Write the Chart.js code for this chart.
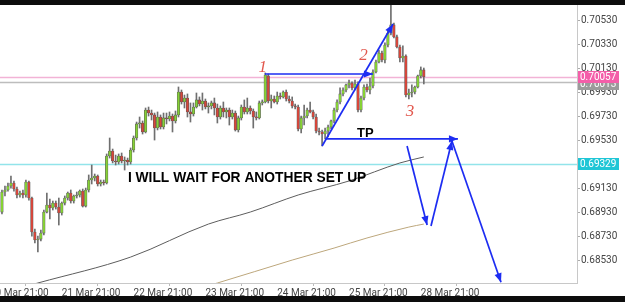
<!DOCTYPE html>
<html><head><meta charset="utf-8">
<script src="https://cdn.jsdelivr.net/npm/chart.js@4.4.1/dist/chart.umd.min.js"></script>
<style>
html,body{margin:0;padding:0;background:#0d0d0d;width:625px;height:302px;overflow:hidden}
#wrap{position:absolute;left:0;top:5px;width:625px;height:291px;background:#fff}
canvas{display:block}
</style></head><body>
<div id="wrap"><canvas id="c" width="625" height="291"></canvas></div>
<script>
// ---- data (H1 bars, x = hours since 20 Mar 21:00) ----
const barHours = [4,5,6,7,8,9,10,11,12,13,14,15,16,17,18,19,20,21,22,23,24,25,26,27,28,29,30,31,32,33,34,35,36,37,38,39,40,41,42,43,44,45,46,47,48,49,50,51,52,53,54,55,56,57,58,59,60,61,62,63,64,65,66,67,68,69,70,71,72,73,74,75,76,77,78,79,80,81,82,83,84,85,86,87,88,89,90,91,92,93,94,95,96,97,98,99,100,101,102,103,104,105,106,107,108,109,110,111,112,113,114,115,116,117,118,119,120,121,122,123,124,125,126,127,128,129,130,131,132,133,134,135,136,137,138,139,140,141,142,143,144,145];
const openP = [0.68930,0.69097,0.69114,0.69147,0.69172,0.69122,0.69072,0.69089,0.69072,0.69180,
0.69047,0.68764,0.68697,0.68705,0.68755,0.68930,0.68989,0.68964,0.69005,0.68972,
0.68922,0.69005,0.69047,0.69089,0.69022,0.69064,0.69072,0.69105,0.68980,0.69114,
0.69197,0.69214,0.69230,0.69164,0.69180,0.69172,0.69397,0.69439,0.69355,0.69347,
0.69397,0.69355,0.69364,0.69347,0.69447,0.69547,0.69664,0.69672,0.69597,0.69780,
0.69755,0.69739,0.69630,0.69722,0.69639,0.69714,0.69705,0.69730,0.69689,0.69739,
0.69930,0.69847,0.69880,0.69764,0.69747,0.69805,0.69864,0.69830,0.69855,0.69805,
0.69814,0.69839,0.69797,0.69722,0.69797,0.69764,0.69780,0.69722,0.69755,0.69614,
0.69714,0.69805,0.69764,0.69797,0.69772,0.69722,0.69714,0.69839,0.69847,0.70064,
0.69855,0.69872,0.69847,0.69897,0.69889,0.69930,0.69872,0.69855,0.69814,0.69805,
0.69622,0.69714,0.69730,0.69780,0.69764,0.69722,0.69605,0.69597,0.69580,0.69605,
0.69639,0.69689,0.69780,0.69847,0.69914,0.69947,0.69989,0.70005,0.69964,0.69997,
0.69780,0.69880,0.69972,0.69947,0.69980,0.70097,0.70180,0.70255,0.70197,0.70322,
0.70422,0.70489,0.70389,0.70305,0.70214,0.70230,0.69905,0.69922,0.69930,0.69972,
0.70064,0.70114];
const highP = [0.69114,0.69147,0.69172,0.69230,0.69189,0.69139,0.69105,0.69114,0.69197,0.69189,
0.69055,0.68789,0.68730,0.68780,0.68947,0.69089,0.69039,0.69022,0.69022,0.69047,
0.69014,0.69064,0.69097,0.69114,0.69072,0.69097,0.69114,0.69122,0.69130,0.69239,
0.69322,0.69247,0.69239,0.69197,0.69197,0.69414,0.69547,0.69455,0.69405,0.69414,
0.69422,0.69389,0.69380,0.69464,0.69564,0.69680,0.69722,0.69689,0.69797,0.69805,
0.69780,0.69755,0.69764,0.69739,0.69755,0.69755,0.69764,0.69747,0.69772,0.69972,
0.69947,0.69905,0.69914,0.69839,0.69839,0.69922,0.69889,0.69922,0.69872,0.69839,
0.69855,0.69880,0.69830,0.69814,0.69847,0.69797,0.69797,0.69780,0.69772,0.69730,
0.69822,0.69864,0.69880,0.69814,0.69789,0.69764,0.69855,0.69864,0.70089,0.70080,
0.69905,0.69897,0.69930,0.69922,0.69939,0.69947,0.69897,0.69889,0.69830,0.69822,
0.69730,0.69822,0.69797,0.69847,0.69780,0.69747,0.69630,0.69614,0.69630,0.69655,
0.69697,0.69797,0.69864,0.69964,0.69964,0.69997,0.70030,0.70014,0.70030,0.70014,
0.69897,0.69989,0.69997,0.70047,0.70114,0.70197,0.70280,0.70272,0.70339,0.70439,
0.70672,0.70505,0.70405,0.70322,0.70314,0.70239,0.69955,0.69989,0.69980,0.70072,
0.70139,0.70130];
const lowP = [0.68914,0.69064,0.69105,0.69130,0.69105,0.69047,0.69055,0.69047,0.69055,0.69030,
0.68730,0.68672,0.68597,0.68689,0.68739,0.68922,0.68872,0.68947,0.68955,0.68822,
0.68905,0.68989,0.69030,0.69005,0.69005,0.69047,0.69055,0.68972,0.68972,0.69097,
0.69164,0.69189,0.69147,0.69147,0.69155,0.69164,0.69380,0.69339,0.69322,0.69330,
0.69339,0.69280,0.69322,0.69330,0.69430,0.69530,0.69630,0.69580,0.69589,0.69730,
0.69697,0.69530,0.69614,0.69622,0.69622,0.69664,0.69689,0.69597,0.69672,0.69722,
0.69830,0.69797,0.69722,0.69680,0.69730,0.69797,0.69814,0.69780,0.69789,0.69755,
0.69789,0.69739,0.69672,0.69705,0.69722,0.69714,0.69655,0.69705,0.69605,0.69597,
0.69697,0.69747,0.69747,0.69747,0.69630,0.69697,0.69705,0.69822,0.69839,0.69839,
0.69797,0.69839,0.69830,0.69872,0.69880,0.69855,0.69839,0.69797,0.69789,0.69605,
0.69589,0.69655,0.69714,0.69755,0.69705,0.69589,0.69572,0.69480,0.69539,0.69555,
0.69622,0.69672,0.69764,0.69830,0.69897,0.69930,0.69964,0.69947,0.69947,0.69764,
0.69764,0.69864,0.69930,0.69914,0.69964,0.70089,0.70172,0.70180,0.70172,0.70305,
0.70405,0.70380,0.70297,0.70180,0.70180,0.69889,0.69872,0.69889,0.69914,0.69964,
0.70047,0.69997];
const closeP = [0.69097,0.69114,0.69147,0.69172,0.69122,0.69072,0.69089,0.69072,0.69180,0.69047,
0.68764,0.68697,0.68705,0.68755,0.68930,0.68989,0.68964,0.69005,0.68972,0.68922,
0.69005,0.69047,0.69089,0.69022,0.69064,0.69072,0.69105,0.68980,0.69114,0.69197,
0.69214,0.69230,0.69164,0.69180,0.69172,0.69397,0.69439,0.69355,0.69347,0.69397,
0.69355,0.69364,0.69347,0.69447,0.69547,0.69664,0.69672,0.69597,0.69780,0.69755,
0.69739,0.69630,0.69722,0.69639,0.69714,0.69705,0.69730,0.69689,0.69739,0.69930,
0.69847,0.69880,0.69764,0.69747,0.69805,0.69864,0.69830,0.69855,0.69805,0.69814,
0.69839,0.69797,0.69722,0.69797,0.69764,0.69780,0.69722,0.69755,0.69614,0.69714,
0.69805,0.69764,0.69797,0.69772,0.69722,0.69714,0.69839,0.69847,0.70072,0.69855,
0.69872,0.69847,0.69897,0.69889,0.69930,0.69872,0.69855,0.69814,0.69805,0.69622,
0.69714,0.69730,0.69780,0.69764,0.69722,0.69605,0.69597,0.69580,0.69605,0.69639,
0.69689,0.69780,0.69847,0.69914,0.69947,0.69989,0.70005,0.69964,0.69997,0.69780,
0.69880,0.69972,0.69947,0.69980,0.70097,0.70180,0.70255,0.70197,0.70322,0.70422,
0.70489,0.70389,0.70305,0.70214,0.70230,0.69905,0.69922,0.69930,0.69972,0.70064,
0.70114,0.70057];

// moving averages (read at a few hours)
const maFastHours = [0,16,47,73,87,103,120,137,145];
const maFastValues = [0.68230,0.68339,0.68555,0.68830,0.68930,0.69072,0.69189,0.69339,0.69389];
const maSlowHours = [70,76,101,115,126,140,145];
const maSlowValues = [0.68297,0.68339,0.68530,0.68630,0.68714,0.68805,0.68830];

// axis ticks
const dayTickHours = [0,24,48,72,96,120,144];
const dayTickLabels = ['20 Mar 21:00','21 Mar 21:00','22 Mar 21:00','23 Mar 21:00','24 Mar 21:00','25 Mar 21:00','28 Mar 21:00'];
const priceTicks = [0.68530,0.68730,0.68930,0.69130,0.69330,0.69530,0.69730,0.69930,0.70130,0.70330,0.70530];

// price levels (lines + right-side labels)
const levelValues = [0.70013,0.70057,0.69329];

// drawn annotations (hour, price)
const arrowPaths = [
  [[91.9,0.70080],[128.0,0.70080]],
  [[111.0,0.69480],[134.7,0.70497]],
  [[112.0,0.69539],[156.4,0.69539]],
  [[139.4,0.69480],[146.1,0.68822]],
  [[147.4,0.68814],[154.4,0.69522]],
  [[154.4,0.69522],[170.8,0.68345]]
];

const GREEN = '#86d234', RED = '#d8463a';
const levelLineColors = ['#bdbdbd','#f2b3d6','#92e4ea'];
const levelBoxColors = ['#9b9b9b','#f45ea9','#1fc6d6'];

const bodies = barHours.map((h,i)=>({x:h, y:[openP[i], closeP[i]]}));
const wicks = barHours.map((h,i)=>({x:h, y:[lowP[i], highP[i]]}));

const datasets = [
  {type:'bar', data:wicks, backgroundColor:'#6f6f6f', barThickness:1, grouped:false, order:5, borderWidth:0},
  {type:'bar', data:bodies, grouped:false, order:4, barThickness:2.6, minBarLength:1,
   backgroundColor: c => { const i=c.dataIndex; return closeP[i] >= openP[i] ? GREEN : RED; },
   borderColor:'#5a5a5a', borderWidth:0.6, borderSkipped:false},
  {type:'line', data:maFastHours.map((h,i)=>({x:h,y:maFastValues[i]})), borderColor:'#5d5d5d', borderWidth:1, pointRadius:0, cubicInterpolationMode:'monotone', order:3},
  {type:'line', data:maSlowHours.map((h,i)=>({x:h,y:maSlowValues[i]})), borderColor:'#bda77c', borderWidth:1, pointRadius:0, cubicInterpolationMode:'monotone', order:3}
];
arrowPaths.forEach(p => datasets.push({type:'line', arrow:true, data:p.map(q=>({x:q[0],y:q[1]})), borderColor:'#1d2df2', borderWidth:1.7, pointRadius:0, order:1, clip:false}));

const overlay = {
  id:'overlay',
  beforeDatasetsDraw(chart){
    const {ctx, chartArea:a, scales:{y}} = chart;
    ctx.save();
    levelValues.forEach((v,i)=>{
      const py = Math.round(y.getPixelForValue(v))+0.5;
      ctx.strokeStyle = levelLineColors[i]; ctx.lineWidth = 1.5;
      ctx.beginPath(); ctx.moveTo(a.left,py); ctx.lineTo(a.right,py); ctx.stroke();
    });
    ctx.restore();
  },
  afterDatasetsDraw(chart){
    const {ctx, scales:{x,y}} = chart;
    ctx.save();
    chart.data.datasets.forEach((ds,di)=>{
      if(!ds.arrow) return;
      const pts = chart.getDatasetMeta(di).data;
      const b = pts[pts.length-1], a = pts[pts.length-2];
      const ang = Math.atan2(b.y-a.y, b.x-a.x);
      const L = 9, W = 3.6;
      ctx.fillStyle = '#1d2df2';
      ctx.beginPath();
      ctx.moveTo(b.x, b.y);
      ctx.lineTo(b.x - L*Math.cos(ang) + W*Math.sin(ang), b.y - L*Math.sin(ang) - W*Math.cos(ang));
      ctx.lineTo(b.x - L*Math.cos(ang) - W*Math.sin(ang), b.y - L*Math.sin(ang) + W*Math.cos(ang));
      ctx.closePath(); ctx.fill();
    });
    ctx.fillStyle = '#000';
    ctx.textBaseline = 'alphabetic'; ctx.textAlign = 'left';
    ctx.font = 'bold 13px "Liberation Sans", Arial, sans-serif';
    ctx.fillText('TP', x.getPixelForValue(122.7), y.getPixelForValue(0.69555));
    ctx.font = 'bold 13.8px "Liberation Sans", Arial, sans-serif';
    ctx.fillText('I WILL WAIT FOR ANOTHER SET UP', x.getPixelForValue(46.1), y.getPixelForValue(0.69180));
    ctx.fillStyle = '#e2584e';
    ctx.font = 'italic 17px "Liberation Serif", serif';
    ctx.textAlign = 'center';
    ctx.fillText('1', x.getPixelForValue(91.2), y.getPixelForValue(0.70097));
    ctx.fillText('2', x.getPixelForValue(124.8), y.getPixelForValue(0.70197));
    ctx.fillText('3', x.getPixelForValue(140.4), y.getPixelForValue(0.69730));
    ctx.restore();
  },
  afterDraw(chart){
    const {ctx, scales:{y}} = chart;
    ctx.save();
    ctx.font = '10px Roboto, sans-serif';
    ctx.textBaseline = 'middle'; ctx.textAlign = 'left';
    levelValues.forEach((v,i)=>{
      const py = y.getPixelForValue(v) + (i===0 ? 1.5 : 0);
      ctx.fillStyle = levelBoxColors[i];
      ctx.fillRect(578, Math.round(py-6), 41, 12);
      ctx.fillStyle = '#fff';
      ctx.fillText(v.toFixed(5), 580, py+0.5);
    });
    ctx.restore();
  }
};

new Chart(document.getElementById('c'), {
  type:'bar',
  data:{datasets},
  options:{
    responsive:false, animation:false, events:[],
    layout:{padding:0},
    plugins:{legend:{display:false}, tooltip:{enabled:false}},
    scales:{
      x:{type:'linear', min:3.342, max:196.2, offset:false,
        afterBuildTicks:s=>{ s.ticks = dayTickHours.map(v=>({value:v})); },
        afterFit:s=>{ s.height = 13; s.paddingLeft = 0; s.paddingRight = 0; },
        ticks:{autoSkip:false, align:'start', maxRotation:0, padding:1, color:'#444', font:{family:'Roboto', size:10},
          callback:v=> dayTickLabels[dayTickHours.indexOf(v)]},
        grid:{display:true, drawOnChartArea:false, drawTicks:true, tickLength:3, color:'#bbb'},
        border:{display:true, color:'#c8c8c8'}
      },
      y:{type:'linear', position:'right', min:0.68339, max:0.70655,
        afterBuildTicks:s=>{ s.ticks = priceTicks.map(v=>({value:v})); },
        afterFit:s=>{ s.width = 48; s.paddingTop = 0; s.paddingBottom = 0; },
        ticks:{autoSkip:false, padding:1, color:'#444', font:{family:'Roboto', size:10},
          callback:v=> v.toFixed(5)},
        grid:{display:true, drawOnChartArea:false, drawTicks:true, tickLength:3, color:'#aaa'},
        border:{display:true, color:'#c8c8c8'}
      }
    }
  },
  plugins:[overlay]
});
</script>
</body></html>
